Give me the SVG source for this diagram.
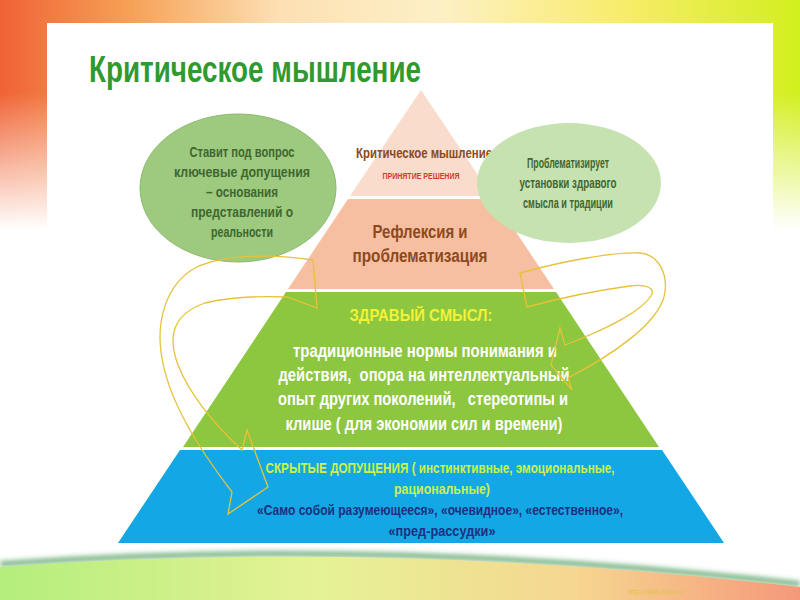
<svg xmlns="http://www.w3.org/2000/svg" width="800" height="600" viewBox="0 0 800 600">
<style>
  .t{font-family:"Liberation Sans",Arial,sans-serif;font-weight:bold}
  .c{text-anchor:middle}
  .ell{font-size:15px;fill:#3f6630}
  .brown{fill:#8b4a20}
  .wh{font-size:19px;fill:#ffffff}
  .bl{font-size:15px}
  .arr{fill:none;stroke:#e6c23a;stroke-width:1.3;stroke-linejoin:miter}
</style>
<defs>
  <linearGradient id="topg" x1="0" y1="0" x2="1" y2="0">
    <stop offset="0" stop-color="#f06236"/>
    <stop offset="0.16" stop-color="#f6a055"/>
    <stop offset="0.35" stop-color="#fde0b4"/>
    <stop offset="0.55" stop-color="#fdf0c6"/>
    <stop offset="0.78" stop-color="#f8ec6a"/>
    <stop offset="1" stop-color="#d2ef1e"/>
  </linearGradient>
  <linearGradient id="fade" x1="0" y1="0" x2="0" y2="1">
    <stop offset="0" stop-color="#ffffff" stop-opacity="0"/>
    <stop offset="0.4" stop-color="#ffffff" stop-opacity="0"/>
    <stop offset="1" stop-color="#ffffff" stop-opacity="1"/>
  </linearGradient>
  <linearGradient id="botg" x1="0" y1="0" x2="1" y2="0">
    <stop offset="0" stop-color="#b4ee7c"/>
    <stop offset="0.4" stop-color="#e6f296"/>
    <stop offset="0.72" stop-color="#f6d690"/>
    <stop offset="1" stop-color="#f5987a"/>
  </linearGradient>
  <filter id="blur" x="-5%" y="-50%" width="110%" height="200%">
    <feGaussianBlur stdDeviation="2.5"/>
  </filter>
</defs>

<!-- slide background -->
<g id="background">
  <rect x="0" y="0" width="800" height="600" fill="#ffffff"/>
  <rect x="0" y="0" width="800" height="230" fill="url(#topg)"/>
  <rect x="0" y="0" width="800" height="230" fill="url(#fade)"/>
  <rect x="47" y="23" width="726" height="570" fill="#ffffff"/>
  <path d="M0,564 Q380,536 800,584" fill="none" stroke="#2f8a3e" stroke-width="5" stroke-opacity="0.7" filter="url(#blur)"/>
  <path d="M0,567 Q380,539 800,587 L800,600 L0,600 Z" fill="url(#botg)"/>
  <text x="656" y="594" class="c" style="font-family:'Liberation Sans',Arial,sans-serif;font-size:7px;fill:#e2c24a">http://aida.ucoz.ru</text>
</g>

<g id="title">
  <text x="89" y="82" class="t" textLength="332" lengthAdjust="spacingAndGlyphs" style="font-size:36px;fill:#2f9a2f">Критическое мышление</text>
</g>

<!-- pyramid -->
<g id="level-top">
  <polygon points="421,90 492,196 350,196" fill="#fadccc"/>
  <text x="424" y="158" class="t c brown" textLength="136" lengthAdjust="spacingAndGlyphs" style="font-size:14px">Критическое мышление</text>
  <text x="421" y="179" class="t c" textLength="77" lengthAdjust="spacingAndGlyphs" style="font-size:8.5px;fill:#d43a2a">ПРИНЯТИЕ РЕШЕНИЯ</text>
</g>
<g id="level-reflection">
  <polygon points="348,199 494,199 554,289 288,289" fill="#f7bfa1"/>
  <text x="420" y="238" class="t c brown" textLength="95" lengthAdjust="spacingAndGlyphs" style="font-size:18px">Рефлексия и</text>
  <text x="420" y="262" class="t c brown" textLength="135" lengthAdjust="spacingAndGlyphs" style="font-size:18px">проблематизация</text>
</g>
<g id="level-common-sense">
  <polygon points="286,292 556,292 659,447 183,447" fill="#8dc63f"/>
  <text x="421" y="321" class="t c" textLength="143" lengthAdjust="spacingAndGlyphs" style="font-size:17px;fill:#f2f236">ЗДРАВЫЙ СМЫСЛ:</text>
  <text x="425" y="357" class="t c wh" textLength="264" lengthAdjust="spacingAndGlyphs">традиционные нормы понимания и</text>
  <text x="424" y="381" class="t c wh" textLength="291" lengthAdjust="spacingAndGlyphs" xml:space="preserve">действия,  опора на интеллектуальный</text>
  <text x="423" y="405" class="t c wh" textLength="290" lengthAdjust="spacingAndGlyphs" xml:space="preserve">опыт других поколений,   стереотипы и</text>
  <text x="424" y="430" class="t c wh" textLength="277" lengthAdjust="spacingAndGlyphs">клише ( для экономии сил и времени)</text>
</g>
<g id="level-hidden">
  <polygon points="180,450 662,450 724,543 118,543" fill="#13a8e5"/>
  <text x="440" y="473" class="t c bl" textLength="349" lengthAdjust="spacingAndGlyphs" style="fill:#ccf04c">СКРЫТЫЕ ДОПУЩЕНИЯ ( инстинктивные, эмоциональные,</text>
  <text x="442" y="494" class="t c bl" textLength="96" lengthAdjust="spacingAndGlyphs" style="fill:#ccf04c">рациональные)</text>
  <text x="440" y="515" class="t c bl" textLength="366" lengthAdjust="spacingAndGlyphs" style="fill:#1c2f80">«Само собой разумеющееся», «очевидное», «естественное»,</text>
  <text x="442" y="536" class="t c bl" textLength="107" lengthAdjust="spacingAndGlyphs" style="fill:#1c2f80">«пред-рассудки»</text>
</g>

<!-- side ellipses -->
<g id="ellipse-left">
  <ellipse cx="238" cy="188" rx="98" ry="74" fill="#9dca7e" stroke="#8cba6c" stroke-width="1"/>
  <text x="242" y="157" class="t c ell" textLength="105" lengthAdjust="spacingAndGlyphs">Ставит под вопрос</text>
  <text x="242" y="177" class="t c ell" textLength="136" lengthAdjust="spacingAndGlyphs">ключевые допущения</text>
  <text x="242" y="197" class="t c ell" textLength="72" lengthAdjust="spacingAndGlyphs">– основания</text>
  <text x="242" y="217" class="t c ell" textLength="102" lengthAdjust="spacingAndGlyphs">представлений о</text>
  <text x="242" y="237" class="t c ell" textLength="62" lengthAdjust="spacingAndGlyphs">реальности</text>
</g>
<g id="ellipse-right">
  <ellipse cx="569" cy="183" rx="92" ry="60" fill="#c6e2b1"/>
  <text x="568" y="168" class="t c ell" textLength="82" lengthAdjust="spacingAndGlyphs" style="font-size:14px">Проблематизирует</text>
  <text x="568" y="188" class="t c ell" textLength="97" lengthAdjust="spacingAndGlyphs" style="font-size:14px">установки здравого</text>
  <text x="568" y="208" class="t c ell" textLength="90" lengthAdjust="spacingAndGlyphs" style="font-size:14px">смысла и традиции</text>
</g>

<!-- curved arrows -->
<g id="connectors">
  <path class="arr" d="M313,260 C262,252 216,257 195,268 C165,285 157,322 161,352 C167,400 200,450 232,492 L228,514 L268,487 L247,430 L242,450 C215,425 190,395 178,365 C166,333 176,313 205,303 C235,296 265,296 287,297 L317,308 Z"/>
  <path class="arr" d="M520,273 C560,262 610,252 640,253 C660,255 669,276 664,297 C656,325 612,355 568,378 L572,390 L551,365 L560,328 L565,345 C605,330 640,312 651,296 C656,288 646,284 630,286 C600,290 560,298 527,307 Z"/>
</g>
</svg>
